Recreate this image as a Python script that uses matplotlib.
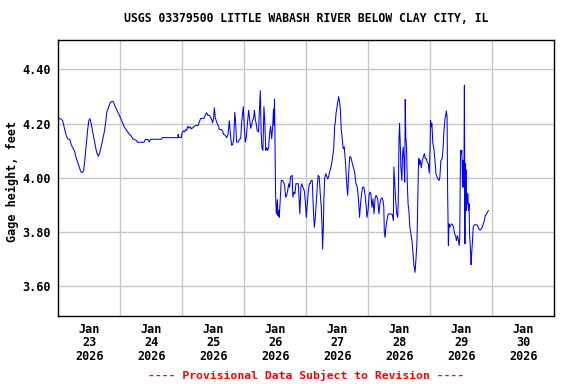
import numpy as np
import pandas as pd
import matplotlib
matplotlib.use("Agg")
import matplotlib.pyplot as plt

# ---- data (hours since 2026-01-23 00:00, gage height in feet) ----
hours = [
    0.0, 1.0, 1.7, 2.2, 2.7, 3.2, 3.7, 4.5, 5.0, 5.8, 6.3, 6.8, 7.4, 7.9, 8.4, 8.9, 9.4,
    9.8, 10.2, 10.6, 11.0, 11.4, 11.8, 12.2, 12.6, 13.3, 13.8, 14.3, 14.8, 15.5, 16.0,
    16.5, 17.0, 17.8, 18.3, 18.8, 19.4, 19.9, 20.5, 21.3, 21.9, 22.7, 23.6, 24.5, 25.5,
    26.6, 27.5,
    28.0, 28.9, 30.2, 30.6, 33.2, 33.7, 34.7, 35.2, 35.7, 39.9, 40.3, 46.3, 46.4, 46.6,
    47.6, 47.9, 48.4, 48.9, 49.3, 49.7, 50.1, 50.6, 51.1, 51.5, 52.0, 52.5, 53.2, 54.1,
    54.6, 55.1,
    55.5, 56.4, 56.9, 57.4, 57.9, 58.5, 59.0, 59.5, 59.7, 60.1, 60.4, 60.8, 61.2, 61.5,
    62.1, 62.3, 63.1, 63.6, 64.0, 64.6, 65.2, 65.7, 66.2, 66.7, 67.1, 67.5, 67.9, 68.3,
    68.6, 69.0, 69.7, 70.1, 70.6, 71.0, 71.4, 71.6, 72.0, 72.4, 72.8, 73.2, 73.7, 74.1,
    74.5, 74.8, 75.2, 75.6, 75.9, 76.3, 76.6, 77.0, 77.5, 77.9, 78.2, 78.5, 78.8, 79.2,
    79.6, 79.9, 80.3, 80.6, 81.0, 81.4, 81.8, 82.2, 82.6, 83.0,
    83.3, 83.5, 83.7, 83.9, 84.1, 84.4, 84.8, 85.0, 85.3, 85.5, 85.9, 86.3, 86.8, 87.2,
    87.6, 88.0, 88.4, 88.8, 89.2, 89.5, 89.9, 90.5, 90.8, 91.2, 91.6, 92.0, 92.5, 92.9,
    93.3, 93.5, 93.9, 94.3, 94.7, 95.2, 95.6, 96.0, 96.4, 96.8, 97.2, 97.5, 97.9, 98.3,
    98.7, 99.1, 99.5, 99.9, 100.3, 100.6, 101.0, 101.4, 101.8, 102.1, 102.3, 102.6,
    102.8, 103.1, 103.5, 103.9, 104.3, 104.6, 105.0, 105.4, 105.8, 106.2, 106.6, 107.0,
    107.2, 107.5, 107.9, 108.3, 108.5, 108.9, 109.2, 109.5, 109.9, 110.3, 110.7,
    111.2, 111.6, 112.0, 112.4, 112.8, 113.2, 113.7, 114.1, 114.5, 114.8, 115.2, 115.6,
    116.0, 116.4, 116.6, 117.0, 117.4, 117.8, 118.3, 118.7, 119.1, 119.5, 119.9, 120.3,
    120.6, 121.0, 121.4, 121.8, 122.2, 122.6, 123.0, 123.4, 123.7, 124.1, 124.5, 124.9,
    125.3, 125.7, 126.0, 126.2, 126.5, 126.8, 127.2, 127.6, 128.0, 128.6, 129.3, 129.7,
    129.9, 130.2, 130.6, 131.0, 131.4, 131.6, 131.9, 132.1, 132.4, 132.6, 133.0, 133.2,
    133.5, 133.8, 134.1, 134.3, 134.5, 134.8, 135.1, 135.4, 135.7, 136.1, 136.5, 136.9,
    137.3, 137.7, 138.1, 138.5,
    138.8, 139.0, 139.4, 139.6, 139.8, 140.1, 140.5, 140.9, 141.3, 141.7, 142.1, 142.5,
    142.8, 143.2, 143.6, 143.9, 144.1, 144.4, 144.6, 145.0, 145.4, 145.8, 146.2, 146.6,
    147.0, 147.4, 147.7, 148.1, 148.5, 148.9, 149.3, 149.7, 150.0, 150.2, 150.5, 150.7,
    151.0, 151.2, 151.5, 151.9, 152.3, 152.6, 153.0, 153.4, 153.8, 154.1, 154.5, 154.8,
    155.2, 155.4, 155.7, 155.9, 156.2, 156.5, 156.7, 157.0, 157.2, 157.3, 157.4, 157.5,
    157.7, 157.8, 157.9, 158.0, 158.3, 158.5, 158.8, 159.0, 159.2, 159.5, 159.8, 160.0,
    160.3, 160.6, 161.0, 161.7, 162.3, 162.8, 163.3, 163.7, 164.1, 164.5, 164.9, 165.3,
    165.7, 166.1, 166.5,
]
gage_ft = [
    4.218, 4.217, 4.210, 4.190, 4.169, 4.153, 4.143, 4.141, 4.122, 4.107, 4.099, 4.077,
    4.060, 4.046, 4.031, 4.020, 4.020,
    4.025, 4.060, 4.100, 4.140, 4.180, 4.210, 4.218, 4.206, 4.169, 4.144, 4.120, 4.095,
    4.079, 4.091, 4.111, 4.132, 4.169, 4.202, 4.243, 4.258, 4.272, 4.281, 4.281, 4.265,
    4.249, 4.231, 4.212, 4.188, 4.173, 4.160,
    4.157, 4.143, 4.138, 4.131, 4.131, 4.141, 4.141, 4.132, 4.142, 4.142, 4.148, 4.148,
    4.160, 4.150, 4.148, 4.165, 4.173, 4.169, 4.178, 4.175, 4.190, 4.183, 4.188, 4.180,
    4.184, 4.188, 4.193, 4.193, 4.206, 4.219,
    4.219, 4.219, 4.231, 4.240, 4.230, 4.231, 4.222, 4.212, 4.202, 4.219, 4.258, 4.219,
    4.209, 4.200, 4.188, 4.178, 4.178, 4.172, 4.160, 4.157, 4.148, 4.160, 4.210, 4.151,
    4.120, 4.122, 4.141, 4.241, 4.212, 4.132, 4.132, 4.142, 4.144, 4.206, 4.243, 4.262,
    4.188, 4.132, 4.151, 4.200, 4.249, 4.212, 4.182, 4.194, 4.212, 4.219, 4.249, 4.212,
    4.200, 4.173, 4.169, 4.262, 4.321, 4.175, 4.111, 4.101, 4.262, 4.212, 4.101, 4.111,
    4.101, 4.111, 4.163, 4.190, 4.144, 4.188,
    4.253, 4.194, 4.290, 4.114, 3.941, 3.867, 3.919, 3.861, 3.879, 3.854, 3.916, 3.990,
    3.990, 3.984, 3.972, 3.928, 3.935, 3.953, 3.978, 3.965, 4.003, 4.009, 3.928, 3.947,
    3.941, 3.978, 3.978, 3.978, 3.904, 3.867, 3.965, 3.978, 3.965, 3.953, 3.916, 3.854,
    3.904, 3.953, 3.978, 3.978, 3.990, 3.990, 3.891, 3.817, 3.854, 3.916, 3.978, 4.009,
    4.003, 3.941, 3.891, 3.817, 3.737, 3.817, 3.916, 3.996, 4.015, 4.005, 3.996, 4.003,
    4.021, 4.033, 4.052, 4.077, 4.107, 4.194, 4.200, 4.237, 4.262, 4.286, 4.299, 4.280,
    4.249, 4.182, 4.144, 4.107, 4.114,
    4.052, 3.984, 3.935, 4.015, 4.077, 4.077, 4.058, 4.042, 4.030, 4.015, 3.978, 3.972,
    3.941, 3.891, 3.854, 3.904, 3.941, 3.965, 3.965, 3.941, 3.904, 3.854, 3.879, 3.935,
    3.947, 3.941, 3.891, 3.922, 3.867, 3.922, 3.935, 3.928, 3.916, 3.867, 3.904, 3.922,
    3.926, 3.916, 3.891, 3.799, 3.780, 3.817, 3.842, 3.864, 3.867, 3.867, 3.864, 3.842,
    4.040, 3.984, 3.916, 3.867, 3.854, 3.916, 4.151, 4.200, 4.114, 4.040, 3.990, 4.077,
    4.114, 4.064, 3.984, 4.289, 4.151, 4.114, 3.978, 3.904, 3.879, 3.817, 3.793, 3.768,
    3.719, 3.675, 3.651, 3.707,
    3.756, 3.836, 4.040, 4.071, 4.049, 4.064, 4.037, 4.064, 4.077, 4.089, 4.070, 4.070,
    4.058, 4.052, 4.017, 4.107, 4.212, 4.188, 4.200, 4.126, 4.107, 4.064, 4.015, 4.003,
    3.996, 3.990, 4.003, 4.064, 4.067, 4.101, 4.175, 4.219, 4.231, 4.247, 4.225, 3.953,
    3.750, 3.830, 3.817, 3.824, 3.830, 3.827, 3.817, 3.793, 3.786, 3.768, 3.786, 3.774,
    3.750, 3.786, 4.101, 4.089, 4.101, 3.965, 4.064, 3.965, 4.342, 4.064, 3.756, 4.052,
    3.916, 4.030, 3.879, 3.947, 3.904, 3.941, 3.879, 3.904, 3.793, 3.743, 3.679, 3.719,
    3.762, 3.817, 3.826, 3.827, 3.824, 3.811, 3.807, 3.811, 3.817, 3.830, 3.842, 3.861,
    3.864, 3.873, 3.879,
]
day_labels = ["Jan\n23\n2026", "Jan\n24\n2026", "Jan\n25\n2026", "Jan\n26\n2026",
              "Jan\n27\n2026", "Jan\n28\n2026", "Jan\n29\n2026", "Jan\n30\n2026"]
y_ticks = [3.60, 3.80, 4.00, 4.20, 4.40]
title = "USGS 03379500 LITTLE WABASH RIVER BELOW CLAY CITY, IL"
footer = "---- Provisional Data Subject to Revision ----"

plt.rcParams["font.family"] = ["DejaVu Sans Mono"]
plt.rcParams["font.weight"] = "bold"

start = pd.Timestamp("2026-01-23 00:00")
times = start + pd.to_timedelta(np.array(hours), unit="h")

W, H = 576, 384
fig = plt.figure(figsize=(W / 100, H / 100), dpi=100)
L, R, T, B = 58.3, 554.3, 39.5, 316.0
ax = fig.add_axes([L / W, 1 - B / H, (R - L) / W, (B - T) / H])

ax.plot(times, gage_ft, color="#0000FF", lw=0.75, zorder=3)

ax.set_xlim(start, start + pd.Timedelta(days=8))
ax.set_ylim(3.49, 4.51)

noon = [start + pd.Timedelta(hours=12 + 24 * i) for i in range(len(day_labels))]
ax.set_xticks(noon)
ax.set_xticklabels(day_labels, fontsize=8.5, fontweight="bold", linespacing=1.05)
ax.set_xticks([start + pd.Timedelta(days=i) for i in range(1, 8)], minor=True)
ax.set_yticks(y_ticks)
ax.set_yticklabels([f"{v:.2f}" for v in y_ticks], fontsize=8.5, fontweight="bold")

ax.grid(which="minor", axis="x", color="#C8C8C8", lw=1.0, zorder=0)
ax.grid(which="major", axis="y", color="#C8C8C8", lw=1.0, zorder=0)
ax.tick_params(which="both", length=0)
ax.tick_params(axis="x", pad=5)
ax.tick_params(axis="y", pad=5.5)
for s in ax.spines.values():
    s.set_color("black")
    s.set_linewidth(1.0)

fig.text(306 / W, 1 - 19 / H, title, ha="center", va="center",
         fontsize=8.3, fontweight="bold")
fig.text(12 / W, 1 - 181 / H, "Gage height, feet", rotation=90, ha="center",
         va="center", fontsize=8.5, fontweight="bold")
fig.text(306 / W, 1 - 375 / H, footer, ha="center", va="center",
         fontsize=8.2, fontweight="bold", color="#FF0000")

fig.savefig("out.png", dpi=100)
